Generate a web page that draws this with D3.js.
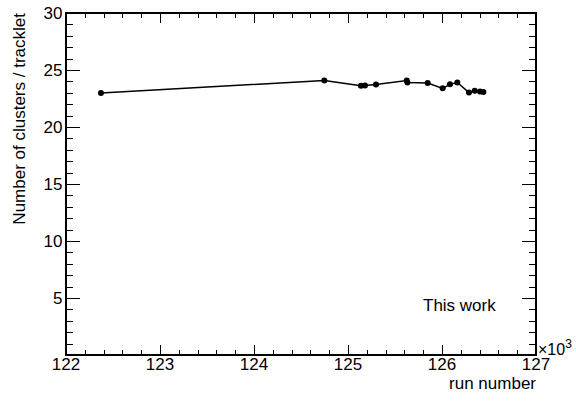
<!DOCTYPE html>
<html><head><meta charset="utf-8">
<script src="https://cdn.jsdelivr.net/npm/d3@7"></script>
<style>body{margin:0;background:#fff}svg{display:block}text{font-family:"Liberation Sans",Arial,sans-serif;fill:#000}</style>
</head><body>
<svg id="c" width="576" height="401"></svg>
<script>
const runs = [122372, 124748, 125138, 125181, 125298, 125625, 125632, 125848, 126007, 126085, 126163, 126287, 126348, 126404, 126440];
const clusters = [22.98, 24.08, 23.62, 23.63, 23.72, 24.08, 23.9, 23.86, 23.39, 23.74, 23.9, 23.02, 23.18, 23.12, 23.06];
const xTicks = [122, 123, 124, 125, 126, 127];
const yTicks = [5, 10, 15, 20, 25, 30];

const svg = d3.select("#c");
const L = 66, R = 536, T = 13, B = 355;
const x = d3.scaleLinear().domain([122000, 127000]).range([L, R]);
const y = d3.scaleLinear().domain([0, 30]).range([B, T]);

// x ticks
d3.range(122000, 127001, 200).forEach(v => {
  const major = v % 1000 === 0;
  const len = major ? 10 : 5;
  const px = Math.round(x(v)) + 0.5;
  svg.append("line").attr("x1", px).attr("x2", px).attr("y1", B).attr("y2", B - len).attr("stroke", "#000");
  svg.append("line").attr("x1", px).attr("x2", px).attr("y1", T).attr("y2", T + len).attr("stroke", "#000");
});
xTicks.forEach(t => {
  svg.append("text").attr("x", x(t * 1000)).attr("y", 370).attr("text-anchor", "middle")
    .attr("font-size", 17).text(t);
});
// y ticks
d3.range(0, 31, 1).forEach(v => {
  const major = v % 5 === 0;
  const len = major ? 14 : 7;
  const py = Math.round(y(v)) + 0.5;
  svg.append("line").attr("x1", L).attr("x2", L + len).attr("y1", py).attr("y2", py).attr("stroke", "#000");
  svg.append("line").attr("x1", R).attr("x2", R - len).attr("y1", py).attr("y2", py).attr("stroke", "#000");
});
yTicks.forEach(t => {
  svg.append("text").attr("x", 62.5).attr("y", y(t) + 6).attr("text-anchor", "end")
    .attr("font-size", 17).text(t);
});

// frame
svg.append("rect").attr("x", L).attr("y", T).attr("width", R - L).attr("height", B - T)
  .attr("fill", "none").attr("stroke", "#000").attr("stroke-width", 2);

// axis titles
svg.append("text").attr("x", R).attr("y", 389).attr("text-anchor", "end").attr("font-size", 17).text("run number");
svg.append("text").attr("transform", `translate(25,${T}) rotate(-90)`).attr("text-anchor", "end")
  .attr("font-size", 17).text("Number of clusters / tracklet");
const ex = svg.append("text").attr("x", R + 2).attr("y", 355).attr("font-size", 16);
ex.append("tspan").text("×10");
ex.append("tspan").attr("dy", -7).attr("font-size", 12).text("3");

svg.append("text").attr("x", 423).attr("y", 311).attr("text-anchor", "start").attr("font-size", 17).text("This work");

// data
const pts = runs.map((r, i) => [r, clusters[i]]);
svg.append("path").datum(pts)
  .attr("d", d3.line().x(d => x(d[0])).y(d => y(d[1])))
  .attr("fill", "none").attr("stroke", "#000").attr("stroke-width", 1.5);
svg.selectAll("circle.pt").data(pts).enter().append("circle")
  .attr("cx", d => x(d[0])).attr("cy", d => y(d[1])).attr("r", 3).attr("fill", "#000");
</script>
</body></html>
